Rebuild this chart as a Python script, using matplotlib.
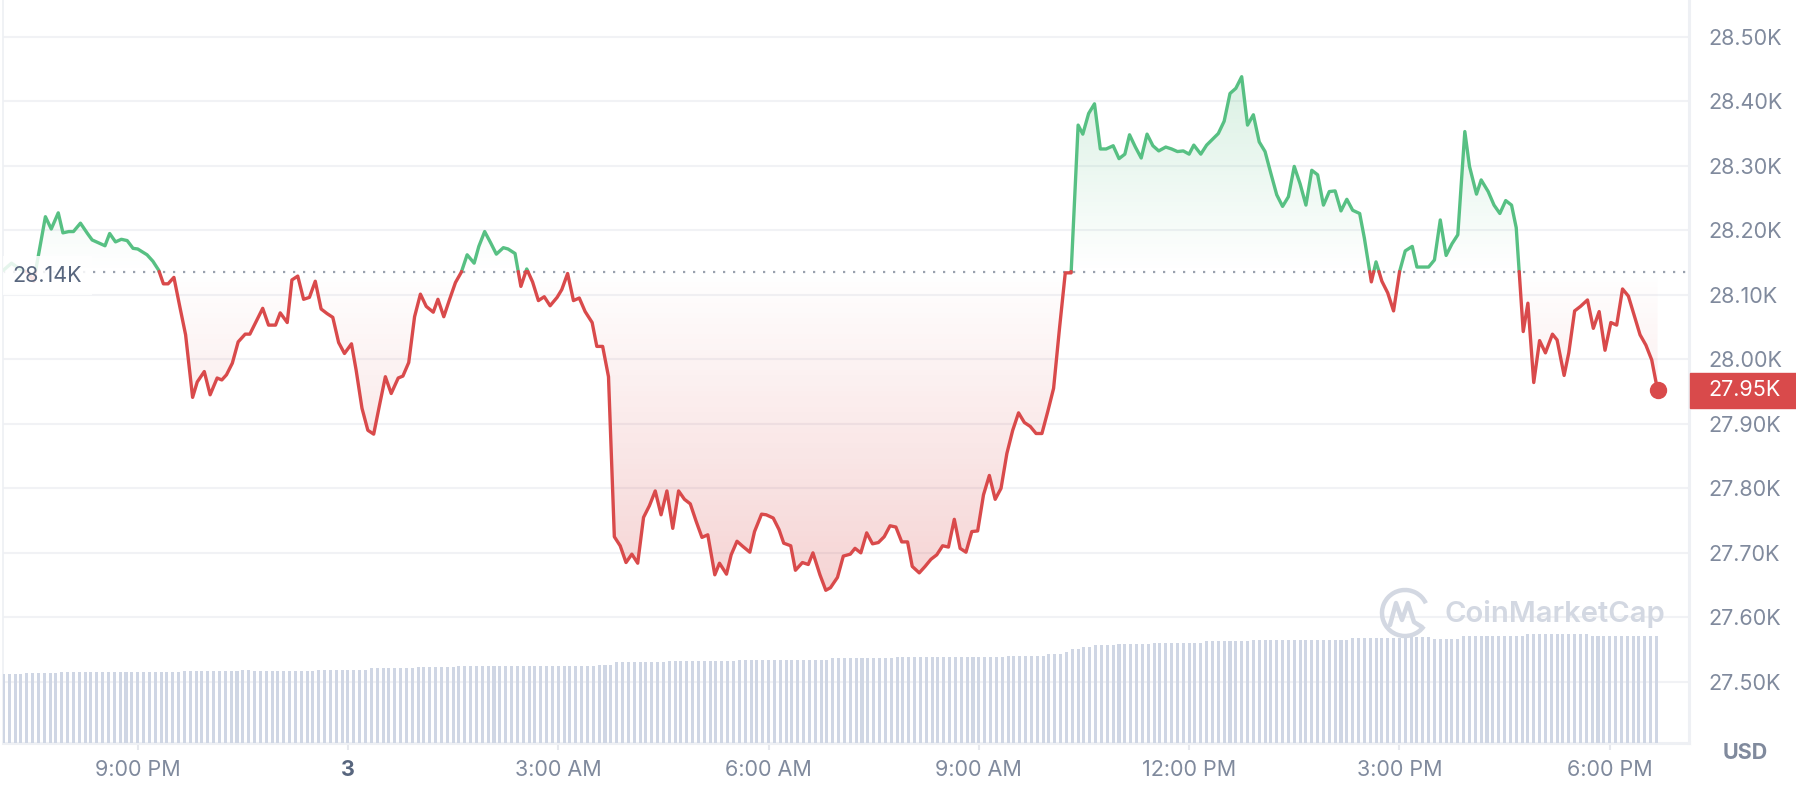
import numpy as np
import matplotlib.pyplot as plt
from matplotlib.patches import Rectangle, Arc
from matplotlib.path import Path

plt.rcParams['font.family'] = ['Inter', 'DejaVu Sans']

# minutes relative to midnight of the 3rd (negative = evening of the 2nd)
minutes = [
    -295, -288, -281, -274, -269, -259, -254, -248, -244, -239,
    -235, -229, -223, -219, -208, -204, -199, -194, -189, -184,
    -180, -172, -167, -162, -158, -154, -149, -144, -139, -133,
    -129, -123, -118, -112, -108, -104, -99, -94, -88, -84,
    -78, -73, -68, -62, -58, -52, -48, -43, -38, -33,
    -28, -23, -18, -13, -8, -3, 3, 7, 12, 17,
    22, 27, 32, 37, 43, 47, 52, 57, 62, 67,
    73, 77, 82, 87, 92, 97, 102, 108, 112, 117,
    122, 127, 133, 137, 143, 148, 153, 158, 163, 168,
    173, 179, 183, 188, 193, 198, 203, 209, 213, 218,
    223, 228, 233, 238, 243, 248, 253, 258, 263, 268,
    273, 278, 283, 288, 293, 298, 303, 308, 314, 318,
    324, 328, 333, 338, 344, 348, 354, 358, 364, 369,
    373, 379, 383, 389, 394, 398, 404, 409, 413, 419,
    424, 430, 434, 439, 444, 449, 454, 459, 464, 469,
    474, 479, 483, 489, 494, 499, 504, 509, 514, 519,
    524, 529, 534, 539, 544, 549, 554, 559, 564, 569,
    574, 579, 584, 589, 594, 599, 604, 609, 614, 619,
    625, 629, 634, 639, 644, 649, 655, 660, 665, 669,
    674, 679, 684, 689, 694, 700, 705, 710, 715, 720,
    724, 730, 735, 740, 745, 750, 755, 760, 765, 770,
    775, 780, 785, 790, 795, 800, 805, 810, 815, 820,
    825, 830, 835, 840, 845, 850, 855, 860, 866, 870,
    876, 880, 885, 890, 895, 900, 905, 911, 915, 920,
    925, 930, 935, 940, 945, 950, 956, 960, 966, 970,
    976, 981, 986, 991, 996, 1000, 1006, 1010, 1015, 1020,
    1025, 1031, 1035, 1041, 1045, 1050, 1055, 1061, 1066, 1071,
    1076, 1081, 1086, 1091, 1096, 1101, 1106, 1111, 1116, 1121,
]
price = [
    28138, 28149, 28140, 28135, 28121, 28221, 28202, 28227, 28196, 28198,
    28198, 28211, 28195, 28185, 28176, 28195, 28182, 28186, 28184, 28172,
    28171, 28162, 28152, 28138, 28117, 28117, 28127, 28082, 28038, 27941,
    27965, 27981, 27945, 27971, 27968, 27976, 27994, 28027, 28039, 28039,
    28061, 28079, 28053, 28053, 28072, 28057, 28123, 28129, 28093, 28096,
    28121, 28078, 28071, 28065, 28026, 28009, 28024, 27983, 27924, 27890,
    27884, 27929, 27973, 27947, 27971, 27974, 27995, 28066, 28101, 28082,
    28073, 28093, 28066, 28093, 28119, 28135, 28162, 28149, 28175, 28198,
    28181, 28163, 28173, 28171, 28164, 28113, 28140, 28120, 28091, 28097,
    28083, 28096, 28108, 28133, 28091, 28095, 28074, 28057, 28020, 28020,
    27973, 27725, 27711, 27685, 27698, 27684, 27755, 27773, 27796, 27759,
    27796, 27738, 27796, 27783, 27776, 27749, 27724, 27728, 27666, 27684,
    27667, 27697, 27718, 27710, 27701, 27733, 27760, 27759, 27754, 27736,
    27715, 27711, 27673, 27685, 27682, 27700, 27666, 27642, 27646, 27662,
    27695, 27698, 27707, 27700, 27731, 27714, 27716, 27725, 27742, 27740,
    27717, 27717, 27679, 27669, 27679, 27690, 27697, 27711, 27709, 27752,
    27707, 27701, 27733, 27734, 27790, 27820, 27783, 27800, 27854, 27890,
    27917, 27902, 27896, 27885, 27885, 27919, 27955, 28047, 28134, 28134,
    28363, 28349, 28381, 28396, 28326, 28326, 28331, 28311, 28318, 28348,
    28329, 28312, 28349, 28331, 28323, 28329, 28326, 28322, 28323, 28318,
    28332, 28318, 28332, 28341, 28350, 28369, 28412, 28420, 28438, 28363,
    28379, 28337, 28322, 28288, 28255, 28237, 28252, 28299, 28272, 28239,
    28293, 28286, 28239, 28260, 28261, 28230, 28248, 28231, 28226, 28188,
    28120, 28151, 28121, 28103, 28075, 28135, 28168, 28175, 28143, 28143,
    28143, 28154, 28216, 28161, 28179, 28193, 28353, 28299, 28256, 28278,
    28260, 28239, 28226, 28246, 28239, 28204, 28043, 28087, 27964, 28029,
    28010, 28039, 28030, 27975, 28010, 28075, 28082, 28092, 28048, 28074,
    28014, 28057, 28053, 28109, 28098, 28068, 28038, 28022, 27999, 27952,
]
base_price = 28136  # open of the period, dotted reference line

# 24h volume bars (billions USD), one every 5 minutes
vol_minutes = np.arange(-295, 1121, 5)
volume = ([13.8] * 4 + [14.1] * 6 + [14.3] * 21 + [14.5] * 10 + [14.7] * 2 +
          [14.5] * 11 + [14.7] * 9 + [15.0] * 8 + [15.2] * 7 + [15.4] * 24 +
          [15.6] * 3 + [16.2] * 9 + [16.4] * 12 + [16.6] * 16 + [17.0] * 11 +
          [17.2] * 19 + [17.4] * 7 + [17.8] * 3 + [18.3] * 1 + [18.8] * 2 +
          [19.3] * 2 + [19.6] * 4 + [19.8] * 6 + [20.0] * 9 + [20.4] * 8 +
          [20.6] * 17 + [21.0] * 9 + [21.2] * 5 + [20.9] * 5 + [21.4] * 11 +
          [21.8] * 11 + [21.5] * 12)

tick_minutes = [-180, 0, 180, 360, 540, 720, 900, 1080]
tick_labels = ['9:00 PM', '3', '3:00 AM', '6:00 AM', '9:00 AM',
               '12:00 PM', '3:00 PM', '6:00 PM']
price_ticks = np.arange(27500, 28501, 100)

GREEN = '#57c083'
RED = '#d94a4b'
LABEL = '#808a9d'
LINE_GREY = '#eef0f4'

W, H = 1796, 786
fig = plt.figure(figsize=(W / 100, H / 100), dpi=100)
rect = [3 / W, 43 / H, (1689 - 3) / W, 743 / H]
ax = fig.add_axes(rect)
xlim = (-295.3, 1147.9)
ylim = (27405.3, 28556.9)

t = np.array(minutes, float)
p = np.array(price, float)

# split the line where it crosses the reference price
tt, pp = [t[0]], [p[0]]
for i in range(1, len(t)):
    a, b = p[i - 1] - base_price, p[i] - base_price
    if a * b < 0:
        f = a / (a - b)
        tt.append(t[i - 1] + f * (t[i] - t[i - 1]))
        pp.append(base_price)
    tt.append(t[i])
    pp.append(p[i])
tt, pp = np.array(tt), np.array(pp)


def gradient_fill(where, rgb, y_lo, y_hi, a_lo, a_hi):
    coll = ax.fill_between(tt, pp, base_price, where=where, interpolate=True,
                           facecolor='none', edgecolor='none')
    path = Path.make_compound_path(*coll.get_paths())
    img = np.zeros((256, 1, 4))
    img[..., :3] = rgb
    img[:, 0, 3] = np.linspace(a_lo, a_hi, 256)
    im = ax.imshow(img, extent=[xlim[0], xlim[1], y_lo, y_hi], origin='lower',
                   aspect='auto', zorder=1, interpolation='bilinear')
    im.set_clip_path(path, transform=ax.transData)


gradient_fill(pp >= base_price, (0.34, 0.75, 0.51), base_price, p.max(), 0.0, 0.22)
gradient_fill(pp <= base_price, (0.85, 0.29, 0.29), p.min(), base_price, 0.24, 0.0)

ax.axhline(base_price, color='#9aa1ae', lw=1.6, ls=(0, (1, 3.5)), zorder=2)

green = np.ma.masked_where(pp < base_price, pp)
red = np.ma.masked_where(pp > base_price, pp)
ax.plot(tt, green, color=GREEN, lw=2.4, solid_joinstyle='round',
        solid_capstyle='round', zorder=3)
ax.plot(tt, red, color=RED, lw=2.4, solid_joinstyle='round',
        solid_capstyle='round', zorder=3)
ax.plot(t[-1], p[-1], 'o', ms=11.5, color=RED, zorder=5)

ax.set_xlim(xlim)
ax.set_ylim(ylim)

ax.set_yticks(price_ticks)
ax.set_yticklabels([f'{v / 1000:.2f}K' for v in price_ticks])
ax.yaxis.tick_right()
ax.tick_params(axis='y', length=0, pad=14, labelsize=15.5, labelcolor=LABEL)
ax.yaxis.grid(True, color='#f1f2f5', lw=1.5)
ax.set_axisbelow(True)

ax.set_xticks(tick_minutes)
ax.set_xticklabels(tick_labels)
ax.tick_params(axis='x', length=5, width=1.5, color='#e6e8ed', pad=7.5,
               labelsize=15.5, labelcolor=LABEL)
for lab in ax.get_xticklabels():
    if lab.get_text() == '3':
        lab.set_fontweight('bold')
        lab.set_color('#58667e')

ax.spines['top'].set_visible(False)
for side, lw in [('right', 2.2), ('bottom', 2.2), ('left', 1.2)]:
    ax.spines[side].set_color(LINE_GREY)
    ax.spines[side].set_linewidth(lw)

# reference price tag on the left
ax.annotate(f'{base_price / 1000:.2f}K', xy=(0, base_price),
            xycoords=('axes fraction', 'data'), xytext=(7, -3),
            textcoords='offset points', ha='left', va='center',
            fontsize=15.5, color='#58667e', zorder=6,
            bbox=dict(boxstyle='square,pad=0.45', fc='white', ec='none', alpha=0.85))

# volume bars in their own axes at the bottom
axv = fig.add_axes(rect, sharex=ax)
axv.patch.set_alpha(0)
axv.bar(vol_minutes, volume, width=2.6, color='#cfd6e4', align='center')
axv.set_ylim(0, 148.6)
axv.axis('off')
ax.set_xlim(xlim)

# current price tag
yd = ax.transData.transform((t[-1], p[-1]))[1] / H
fig.patches.append(Rectangle((1690 / W, yd - 17.5 / H), (W - 1690) / W, 35 / H,
                             transform=fig.transFigure, color=RED, zorder=5))
fig.text(1708 / W, yd, f'{p[-1] / 1000:.2f}K', color='white', fontsize=15.5,
         va='center', ha='left', zorder=6)

fig.text(1745 / W, 1 - 753 / H, 'USD', color=LABEL, fontsize=15.5,
         fontweight='bold', ha='center', va='center')

# watermark, drawn over the plot
deco = fig.add_axes([0, 0, 1, 1], zorder=10)
deco.patch.set_alpha(0)
deco.set_xlim(0, W)
deco.set_ylim(H, 0)
deco.axis('off')
wm = '#d3d8e2'
deco.add_patch(Arc((1405, 613), 46, 46, theta1=35, theta2=335, color=wm, lw=3.2))
deco.plot([1390, 1396, 1402, 1408, 1414, 1422], [625, 603, 620, 603, 622, 627],
          color=wm, lw=3.2, solid_joinstyle='round', solid_capstyle='round')
deco.text(1444, 614, 'CoinMarketCap', color=wm, fontsize=21, fontweight='semibold',
          ha='left', va='center')

fig.savefig('out.png', dpi=100)
